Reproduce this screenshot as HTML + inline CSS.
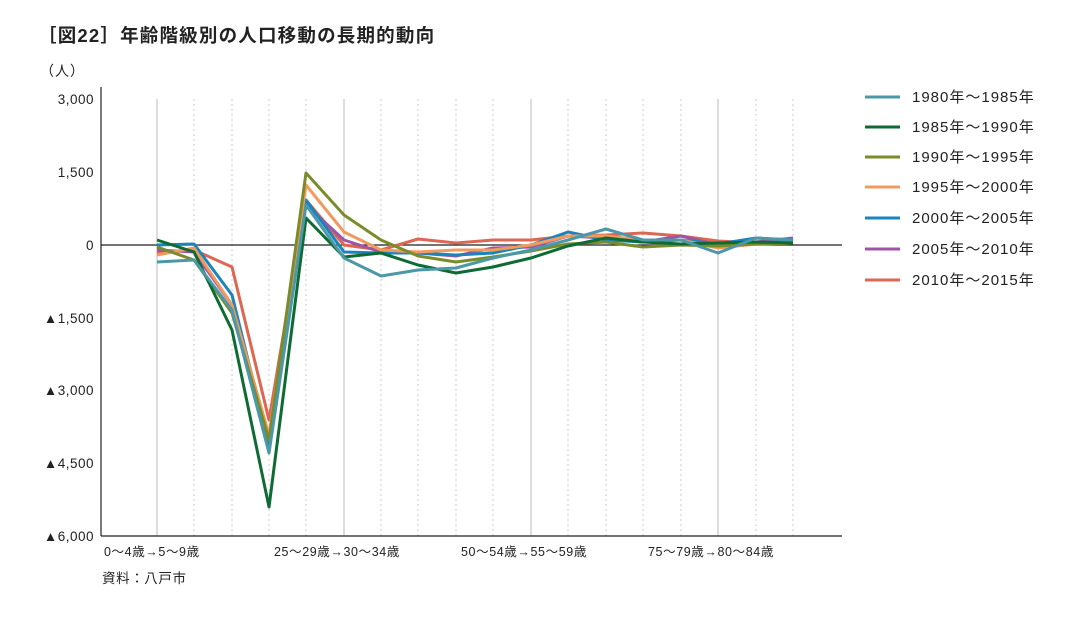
<!DOCTYPE html><html><head><meta charset="utf-8"><style>
body{margin:0;background:#fff;width:1080px;height:618px;overflow:hidden;font-family:"Liberation Sans","Noto Sans CJK JP",sans-serif;}
</style></head><body>
<svg width="1080" height="618" xmlns="http://www.w3.org/2000/svg" font-family="Liberation Sans, Noto Sans CJK JP, sans-serif">
<text x="38" y="42" font-size="18.5" font-weight="bold" fill="#222" letter-spacing="1.2">［図22］年齢階級別の人口移動の長期的動向</text>
<text x="40" y="76" font-size="14" fill="#222" letter-spacing="1">（人）</text>
<g font-size="13.5" fill="#222" text-anchor="end" letter-spacing="0.5">
<text x="94" y="104">3,000</text><text x="94" y="177">1,500</text><text x="94" y="250">0</text>
<text x="94" y="323">▲1,500</text><text x="94" y="395">▲3,000</text><text x="94" y="468">▲4,500</text><text x="94" y="541">▲6,000</text>
</g>
<g stroke="#bbb" stroke-width="1">
<line x1="157" y1="99" x2="157" y2="536"/><line x1="344" y1="99" x2="344" y2="536"/><line x1="531" y1="99" x2="531" y2="536"/><line x1="718" y1="99" x2="718" y2="536"/>
</g>
<g stroke="#ccc" stroke-width="1" stroke-dasharray="2,3">
<line x1="194" y1="99" x2="194" y2="536"/><line x1="232" y1="99" x2="232" y2="536"/><line x1="269" y1="99" x2="269" y2="536"/><line x1="306" y1="99" x2="306" y2="536"/>
<line x1="381" y1="99" x2="381" y2="536"/><line x1="418" y1="99" x2="418" y2="536"/><line x1="456" y1="99" x2="456" y2="536"/><line x1="493" y1="99" x2="493" y2="536"/>
<line x1="568" y1="99" x2="568" y2="536"/><line x1="606" y1="99" x2="606" y2="536"/><line x1="643" y1="99" x2="643" y2="536"/><line x1="681" y1="99" x2="681" y2="536"/>
<line x1="756" y1="99" x2="756" y2="536"/><line x1="793" y1="99" x2="793" y2="536"/>
</g>
<line x1="101" y1="87" x2="101" y2="536" stroke="#222" stroke-width="1.2"/>
<line x1="101" y1="536" x2="842" y2="536" stroke="#222" stroke-width="1.2"/>
<line x1="101" y1="245" x2="842" y2="245" stroke="#222" stroke-width="1.2"/>
<g fill="none" stroke-width="3" stroke-linejoin="round">
<polyline stroke="#dc6752" points="157,253 194,250 232,267 269,420 306,200 344,245 381,250 418,239 456,243 493,240 531,240 568,236 606,235 643,233 681,236 718,241 756,243 793,240"/>
<polyline stroke="#a054a8" points="157,250 194,252 232,305 269,440 306,205 344,240 381,252 418,253 456,256 493,248 531,247 568,236 606,238 643,242 681,236 718,245 756,242 793,238"/>
<polyline stroke="#1a84bc" points="157,245 194,244 232,295 269,445 306,200 344,252 381,253 418,253 456,255 493,253 531,245 568,232 606,240 643,242 681,240 718,244 756,238 793,240"/>
<polyline stroke="#f09a5e" points="157,255 194,248 232,305 269,435 306,185 344,232 381,250 418,252 456,250 493,250 531,245 568,236 606,236 643,240 681,240 718,248 756,244 793,243"/>
<polyline stroke="#7a8c2a" points="157,247 194,260 232,313 269,440 306,173 344,215 381,240 418,256 456,262 493,257 531,251 568,244 606,242 643,247 681,245 718,246 756,244 793,243"/>
<polyline stroke="#0e6b34" points="157,240 194,252 232,330 269,507 306,218 344,257 381,253 418,265 456,273 493,267 531,258 568,246 606,238 643,242 681,244 718,243 756,242 793,243"/>
<polyline stroke="#4a98a8" points="157,262 194,260 232,310 269,453 306,205 344,258 381,276 418,270 456,268 493,258 531,250 568,240 606,229 643,240 681,240 718,253 756,238 793,240"/>
</g>
<g font-size="12.5" fill="#222" letter-spacing="0.6">
<text x="104" y="556">0～4歳→5～9歳</text>
<text x="274" y="556">25～29歳→30～34歳</text>
<text x="461" y="556">50～54歳→55～59歳</text>
<text x="648" y="556">75～79歳→80～84歳</text>
<text x="102" y="583" font-size="13.5">資料：八戸市</text>
</g>
<g stroke-width="3">
<line x1="865" y1="97" x2="900" y2="97" stroke="#4a98a8"/>
<line x1="865" y1="127" x2="900" y2="127" stroke="#0e6b34"/>
<line x1="865" y1="157" x2="900" y2="157" stroke="#7a8c2a"/>
<line x1="865" y1="187" x2="900" y2="187" stroke="#f09a5e"/>
<line x1="865" y1="218" x2="900" y2="218" stroke="#1a84bc"/>
<line x1="865" y1="249" x2="900" y2="249" stroke="#a054a8"/>
<line x1="865" y1="280" x2="900" y2="280" stroke="#dc6752"/>
</g>
<g font-size="15" fill="#222" letter-spacing="1">
<text x="912" y="102">1980年～1985年</text>
<text x="912" y="132">1985年～1990年</text>
<text x="912" y="162">1990年～1995年</text>
<text x="912" y="192">1995年～2000年</text>
<text x="912" y="223">2000年～2005年</text>
<text x="912" y="254">2005年～2010年</text>
<text x="912" y="285">2010年～2015年</text>
</g>
</svg>
</body></html>
